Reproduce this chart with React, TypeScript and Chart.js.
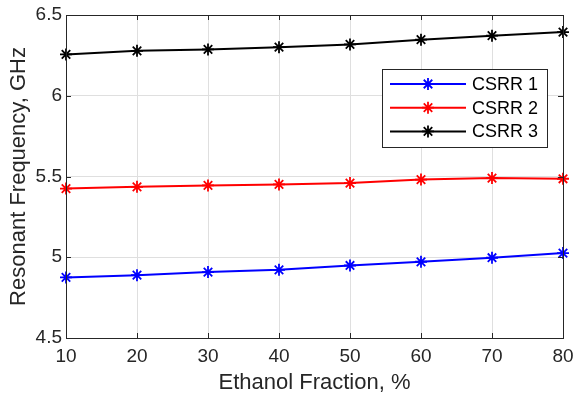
import React, { useEffect, useRef } from 'react';
import { Chart, registerables } from 'chart.js';

Chart.register(...registerables);

const fractions = [10, 20, 30, 40, 50, 60, 70, 80];
const csrr1 = [4.875, 4.889, 4.908, 4.922, 4.949, 4.972, 4.997, 5.026];
const csrr2 = [5.425, 5.436, 5.445, 5.451, 5.459, 5.481, 5.49, 5.486];
const csrr3 = [6.256, 6.278, 6.287, 6.301, 6.318, 6.347, 6.372, 6.394];
const seriesNames = ['CSRR 1', 'CSRR 2', 'CSRR 3'];
const seriesColors = ['#0000FF', '#FF0000', '#000000'];
const seriesValues = [csrr1, csrr2, csrr3];
const xTitle = 'Ethanol Fraction, %';
const yTitle = 'Resonant Frequency, GHz';

const FONT = "'Liberation Sans', Arial, sans-serif";
const AXIS = '#262626';

function drawStar(ctx: CanvasRenderingContext2D, x: number, y: number, r: number) {
  ctx.beginPath();
  ctx.moveTo(x, y - r);
  ctx.lineTo(x, y + r);
  ctx.moveTo(x - r, y);
  ctx.lineTo(x + r, y);
  const d = r * Math.SQRT1_2;
  ctx.moveTo(x - d, y - d);
  ctx.lineTo(x + d, y + d);
  ctx.moveTo(x - d, y + d);
  ctx.lineTo(x + d, y - d);
  ctx.stroke();
}

const frameAndTicks = {
  id: 'frameAndTicks',
  afterDraw(chart: any) {
    const { ctx, chartArea: a, scales } = chart;
    ctx.save();
    ctx.strokeStyle = AXIS;
    ctx.lineWidth = 1;
    const len = 5;
    ctx.beginPath();
    scales.x.ticks.forEach((t: any) => {
      const px = Math.round(scales.x.getPixelForValue(t.value)) + 0.5;
      ctx.moveTo(px, a.bottom);
      ctx.lineTo(px, a.bottom - len);
      ctx.moveTo(px, a.top);
      ctx.lineTo(px, a.top + len);
    });
    scales.y.ticks.forEach((t: any) => {
      const py = Math.round(scales.y.getPixelForValue(t.value)) + 0.5;
      ctx.moveTo(a.left, py);
      ctx.lineTo(a.left + len, py);
      ctx.moveTo(a.right, py);
      ctx.lineTo(a.right - len, py);
    });
    ctx.stroke();
    ctx.strokeRect(Math.round(a.left) + 0.5, Math.round(a.top) + 0.5, Math.round(a.right - a.left), Math.round(a.bottom - a.top));
    ctx.restore();
  },
};

const boxLegend = {
  id: 'boxLegend',
  afterDraw(chart: any) {
    const { ctx, chartArea: a } = chart;
    const bx = a.right - 181;
    const by = a.top + 54;
    const bw = 165;
    const bh = 78;
    ctx.save();
    ctx.fillStyle = '#ffffff';
    ctx.fillRect(bx, by, bw, bh);
    ctx.strokeStyle = AXIS;
    ctx.lineWidth = 1;
    ctx.strokeRect(Math.round(bx) + 0.5, Math.round(by) + 0.5, bw, bh);
    ctx.font = `18px ${FONT}`;
    ctx.textBaseline = 'middle';
    ctx.textAlign = 'left';
    seriesNames.forEach((name, i) => {
      const y = by + 15 + i * 23.7;
      ctx.strokeStyle = seriesColors[i];
      ctx.lineWidth = 2;
      ctx.beginPath();
      ctx.moveTo(bx + 8, y);
      ctx.lineTo(bx + 84, y);
      ctx.stroke();
      ctx.lineWidth = 1.8;
      drawStar(ctx, bx + 46, y, 6);
      ctx.fillStyle = '#000000';
      ctx.fillText(name, bx + 90, y + 1);
    });
    ctx.restore();
  },
};

export default function App() {
  const ref = useRef<HTMLCanvasElement | null>(null);
  useEffect(() => {
    if (!ref.current) return;
    Chart.defaults.font.family = FONT;
    const chart = new Chart(ref.current, {
      type: 'line',
      data: {
        datasets: seriesNames.map((name, i) => ({
          label: name,
          data: fractions.map((x, j) => ({ x, y: seriesValues[i][j] })),
          borderColor: seriesColors[i],
          backgroundColor: seriesColors[i],
          borderWidth: 2,
          pointStyle: 'star',
          pointRadius: 6,
          pointBorderWidth: 1.8,
          pointBorderColor: seriesColors[i],
          tension: 0,
          clip: false as any,
        })),
      },
      options: {
        animation: false,
        responsive: false,
        layout: { padding: { left: 0, top: 15, right: 13, bottom: 0 } },
        plugins: { legend: { display: false }, tooltip: { enabled: false } },
        scales: {
          x: {
            type: 'linear',
            min: 10,
            max: 80,
            afterFit: (s: any) => { s.height = 61; s.paddingRight = 0; s.paddingLeft = 0; },
            ticks: { stepSize: 10, color: AXIS, font: { size: 19 }, padding: 7, maxRotation: 0 },
            grid: { color: '#dfdfdf', drawTicks: false },
            border: { display: false },
            title: { display: true, text: xTitle, color: AXIS, font: { size: 22 }, padding: { top: 0, bottom: 3 } },
          },
          y: {
            type: 'linear',
            min: 4.5,
            max: 6.5,
            afterFit: (s: any) => { s.width = 66; s.paddingTop = 0; s.paddingBottom = 0; },
            ticks: { stepSize: 0.5, color: AXIS, font: { size: 19 }, padding: 4, callback: (v: any) => String(Number(v)) },
            grid: { color: '#dfdfdf', drawTicks: false },
            border: { display: false },
            title: { display: true, text: yTitle, color: AXIS, font: { size: 22 }, padding: { top: 6, bottom: 0 } },
          },
        },
      },
      plugins: [frameAndTicks, boxLegend],
    });
    return () => chart.destroy();
  }, []);
  return (
    <div style={{ position: 'absolute', left: 0, top: 0, width: 576, height: 399, background: '#fff' }}>
      <canvas ref={ref} width={576} height={399} />
    </div>
  );
}
